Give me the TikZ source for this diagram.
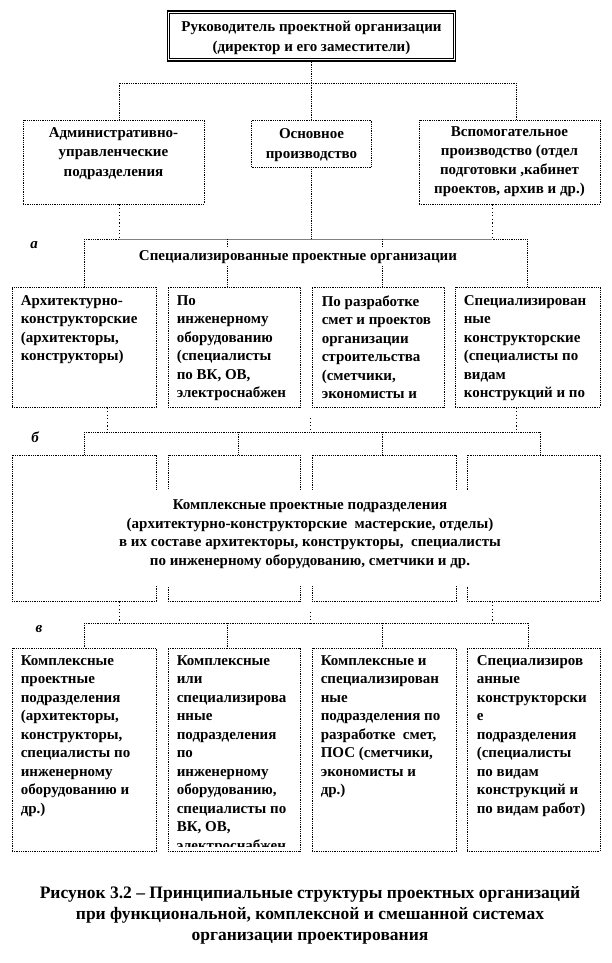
\documentclass[tikz,border=0pt]{standalone}
\usepackage{fontspec}
\setmainfont{Liberation Serif}
\tikzset{
  unit/.style={draw, densely dotted, line width=0.8pt, fill=white, inner sep=0pt},
  link/.style={densely dotted, line width=0.8pt},
  drop/.style={dash pattern=on 1.2pt off 2.4pt, line width=0.8pt},
  boxtext/.style={font=\fontsize{15}{18.5}\selectfont\bfseries, inner sep=0pt, align=left, anchor=north west},
  midtext/.style={font=\fontsize{15}{19.5}\selectfont\bfseries, inner sep=0pt, align=center, anchor=north},
  tag/.style={font=\fontsize{15}{15}\selectfont\bfseries\itshape, inner sep=0pt}
}
\begin{document}
\begin{tikzpicture}[x=1pt,y=-1pt]
  \useasboundingbox (0,0) rectangle (612,963);
  % head and first level
  \node[draw, line width=1.8pt, minimum width=288pt, minimum height=50pt, inner sep=0pt] (head) at (311.5,36) {};
  \draw[line width=0.8pt] ([shift={(3pt,-3pt)}]head.north west) rectangle ([shift={(-3pt,3pt)}]head.south east);
  \node[midtext, font=\fontsize{15}{20}\selectfont\bfseries] (headt) at ([yshift=-10.5pt]head.north)
    {Руководитель проектной организации\\(директор и его заместители)};
  \node[unit, minimum width=181pt, minimum height=84pt] (adm) at (113.5,162) {};
  \node[unit, minimum width=120pt, minimum height=47pt] (osn) at (311.5,143.5) {};
  \node[unit, minimum width=181pt, minimum height=84pt] (vsp) at (509.5,162) {};
  \node[midtext] (admt) at ([yshift=-7.5pt]adm.north) {Административно-\\управленческие\\подразделения};
  \node[midtext] (osnt) at ([yshift=-9pt]osn.north) {Основное\\производство};
  \node[midtext, font=\fontsize{15}{19}\selectfont\bfseries] (vspt) at ([yshift=-6.5pt]vsp.north)
    {Вспомогательное\\производство (отдел\\подготовки ,кабинет\\проектов, архив и др.)};
  \coordinate (bus1l) at (119,83);
  \coordinate (bus1r) at (516,83);
  \draw[link] (head) -- (head |- bus1l);
  \draw[link] (bus1l |- adm.north) -- (bus1l) -- (bus1r) -- (bus1r |- vsp.north);
  \draw[link] (osn |- bus1l) -- (osn);
  % a: specialized organisations
  \node[tag] (taga) at (34,245) {а};
  \foreach \n/\xc/\w in {a1/84/144, a2/234/132, a3/378/132, a4/527.5/145}
    \node[unit, minimum width=\w pt, minimum height=120pt] (\n) at (\xc,347) {};
  \coordinate (bus2l) at (84,239);
  \coordinate (bus2a) at (227,239);
  \coordinate (bus2b) at (382,239);
  \coordinate (bus2r) at (527,239);
  \draw[link] (osn) -- (osn |- bus2l);
  \draw[drop] (adm.south -| bus1l) -- (bus1l |- bus2l);
  \draw[drop] ([xshift=-17.5pt]vsp.south) -- ([xshift=-17.5pt]vsp.south |- bus2l);
  \draw[link] (bus2l) -- (bus2r);
  \draw[gray, line width=0.8pt] (bus1l |- bus2l) -- ([xshift=-17.5pt]vsp.south |- bus2l);
  \foreach \c/\b in {bus2l/a1, bus2a/a2, bus2b/a3, bus2r/a4}
    \draw[link] (\c) -- (\c |- \b.north);
  \node[midtext, anchor=center, fill=white, inner sep=2pt] (spec) at (298,257) {Специализированные проектные организации};
  \node[boxtext] (a1t) at ([shift={(9pt,-8.5pt)}]a1.north west) {Архитектурно-\\конструкторские\\(архитекторы,\\конструкторы)};
  \node[boxtext] (a2t) at ([shift={(9pt,-8.5pt)}]a2.north west) {По\\инженерному\\оборудованию\\(специалисты\\по ВК, ОВ,\\электроснабжен};
  \node[boxtext] (a3t) at ([shift={(10pt,-8.5pt)}]a3.north west) {По разработке\\смет и проектов\\организации\\строительства\\(сметчики,\\экономисты и};
  \node[boxtext] (a4t) at ([shift={(9pt,-8.5pt)}]a4.north west) {Специализирован\\ные\\конструкторские\\(специалисты по\\видам\\конструкций и по};
  % b: complex divisions
  \node[tag] (tagb) at (35,437) {б};
  \foreach \n/\xc/\w in {b1/84/144, b2/234/132, b3/384/144, b4/533.5/133}
    \node[unit, minimum width=\w pt, minimum height=146pt] (\n) at (\xc,528) {};
  \coordinate (bus3l) at (84,432);
  \coordinate (bus3a) at (238,432);
  \coordinate (bus3b) at (382,432);
  \coordinate (bus3r) at (540,432);
  \coordinate (gap1) at (310,418);
  \draw[drop] (a1.south -| 107,0) -- (bus3l -| 107,0);
  \draw[drop] (gap1) -- (gap1 |- bus3l);
  \draw[drop] (a4.south -| 516,0) -- (bus3l -| 516,0);
  \draw[link] (bus3l) -- (bus3r);
  \foreach \c/\b in {bus3l/b1, bus3a/b2, bus3b/b3, bus3r/b4}
    \draw[link] (\c) -- (\c |- \b.north);
  \node[fill=white, inner sep=0pt, minimum width=585pt, minimum height=96pt] (cplx) at (306,538) {};
  \node[midtext, font=\fontsize{15}{18.5}\selectfont\bfseries, anchor=center] (cplxt) at (310,534)
    {Комплексные проектные подразделения\\(архитектурно-конструкторские\ \ мастерские, отделы)\\в их составе архитекторы, конструкторы,\ \ специалисты\\по инженерному оборудованию, сметчики и др.};
  % c: mixed
  \node[tag] (tagc) at (39,629) {в};
  \foreach \n/\xc/\w in {c1/84/144, c2/234/132, c3/384/144, c4/533.5/133}
    \node[unit, minimum width=\w pt, minimum height=203pt] (\n) at (\xc,749.5) {};
  \coordinate (bus4l) at (84,623);
  \coordinate (bus4a) at (227,623);
  \coordinate (bus4b) at (382,623);
  \coordinate (bus4r) at (528,623);
  \coordinate (gap2) at (310,612);
  \draw[drop] (b1.south -| bus1l) -- (bus4l -| bus1l);
  \draw[drop] (gap2) -- (gap2 |- bus4l);
  \draw[drop] (b4.south -| 492,0) -- (bus4l -| 492,0);
  \draw[link] (bus4l) -- (bus4r);
  \foreach \c/\b in {bus4l/c1, bus4a/c2, bus4b/c3, bus4r/c4}
    \draw[link] (\c) -- (\c |- \b.north);
  \node[boxtext] (c1t) at ([shift={(9pt,-7.5pt)}]c1.north west) {Комплексные\\проектные\\подразделения\\(архитекторы,\\конструкторы,\\специалисты по\\инженерному\\оборудованию и\\др.)};
  \begin{scope}
    \clip (c2.north west) rectangle ([yshift=5pt]c2.south east);
    \node[boxtext] (c2t) at ([shift={(9pt,-7.5pt)}]c2.north west) {Комплексные\\или\\специализирова\\нные\\подразделения\\по\\инженерному\\оборудованию,\\специалисты по\\ВК, ОВ,\\электроснабжен};
  \end{scope}
  \node[boxtext] (c3t) at ([shift={(9pt,-7.5pt)}]c3.north west) {Комплексные и\\специализирован\\ные\\подразделения по\\разработке\ \ смет,\\ПОС (сметчики,\\экономисты и\\др.)};
  \node[boxtext] (c4t) at ([shift={(10pt,-7.5pt)}]c4.north west) {Специализиров\\анные\\конструкторски\\е\\подразделения\\(специалисты\\по видам\\конструкций и\\по видам работ)};
  % caption
  \node[midtext, font=\fontsize{17.5}{21}\selectfont\bfseries] (capt) at (310,886)
    {Рисунок 3.2 -- Принципиальные структуры проектных организаций\\при функциональной, комплексной и смешанной системах\\организации проектирования};
\end{tikzpicture}
\end{document}
